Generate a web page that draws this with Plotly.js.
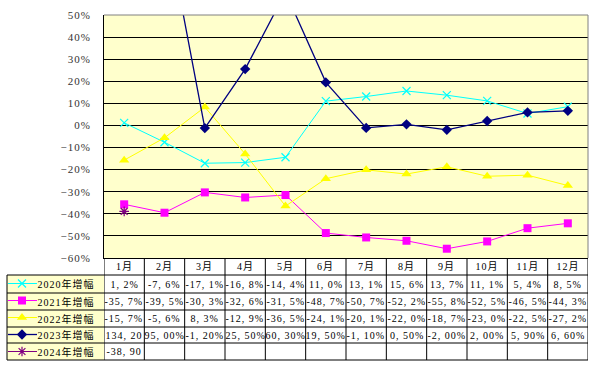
<!DOCTYPE html>
<html><head><meta charset="utf-8">
<script src="https://cdn.plot.ly/plotly-3.0.1.min.js"></script>
<style>
body{margin:0;padding:0;background:#fff;}
#chart text{letter-spacing:1px;}
</style>
</head><body>
<div id="chart" style="width:592px;height:366px;"></div>
<script>
// ---- data ----
const months = ["1月","2月","3月","4月","5月","6月","7月","8月","9月","10月","11月","12月"];
const seriesNames = ["2020年增幅","2021年增幅","2022年增幅","2023年增幅","2024年增幅"];
const v2020 = [1.2,-7.6,-17.1,-16.8,-14.4,11.0,13.1,15.6,13.7,11.1,5.4,8.5];
const v2021 = [-35.7,-39.5,-30.3,-32.6,-31.5,-48.7,-50.7,-52.2,-55.8,-52.5,-46.5,-44.3];
const v2022 = [-15.7,-5.6,8.3,-12.9,-36.5,-24.1,-20.1,-22.0,-18.7,-23.0,-22.5,-27.2];
const v2023 = [134.20,95.00,-1.20,25.50,60.30,19.50,-1.10,0.50,-2.00,2.00,5.90,6.60];
const v2024 = [-38.90];
const t2020 = ["1, 2%","-7, 6%","-17, 1%","-16, 8%","-14, 4%","11, 0%","13, 1%","15, 6%","13, 7%","11, 1%","5, 4%","8, 5%"];
const t2021 = ["-35, 7%","-39, 5%","-30, 3%","-32, 6%","-31, 5%","-48, 7%","-50, 7%","-52, 2%","-55, 8%","-52, 5%","-46, 5%","-44, 3%"];
const t2022 = ["-15, 7%","-5, 6%","8, 3%","-12, 9%","-36, 5%","-24, 1%","-20, 1%","-22, 0%","-18, 7%","-23, 0%","-22, 5%","-27, 2%"];
const t2023 = ["134, 20","95, 00%","-1, 20%","25, 50%","60, 30%","19, 50%","-1, 10%","0, 50%","-2, 00%","2, 00%","5, 90%","6, 60%"];
const t2024 = ["-38, 90"];

// ---- layout helpers ----
const W = 592, H = 366;
const px = x => x / W;
const py = y => 1 - y / H;
const FONT = "'Liberation Serif', 'Noto Sans CJK SC', serif";

const allVals = [v2020, v2021, v2022, v2023, v2024];
const allText = [t2020, t2021, t2022, t2023, t2024];
const styles = [
  {color:"#00FFFF", symbol:"x-thin", size:8, lw:1},
  {color:"#FF00FF", symbol:"square", size:8, lw:1},
  {color:"#FFFF00", symbol:"triangle-up", size:9, lw:1},
  {color:"#000080", symbol:"diamond", size:8, lw:1.3},
  {color:"#800080", symbol:"asterisk", size:8, lw:1}
];

const traces = [];
allVals.forEach((vals, i) => {
  const s = styles[i];
  const thin = s.symbol === "x-thin" || s.symbol === "asterisk";
  traces.push({
    type: "scatter", mode: vals.length > 1 ? "lines+markers" : "markers",
    x: vals.map((_, k) => k), y: vals.map(v => v / 100),
    line: {color: s.color, width: s.lw},
    marker: {symbol: s.symbol, size: s.size, color: s.color,
             line: {color: s.color, width: thin ? 1.2 : 0}},
    cliponaxis: true, showlegend: false, hoverinfo: "skip"
  });
  // legend sample in table (overlay axes)
  traces.push({
    type: "scatter", mode: "lines", xaxis: "x2", yaxis: "y2",
    x: [1, 30], y: [i + 0.5, i + 0.5],
    line: {color: s.color, width: s.lw}, showlegend: false, hoverinfo: "skip"
  });
  traces.push({
    type: "scatter", mode: "markers", xaxis: "x2", yaxis: "y2",
    x: [15], y: [i + 0.5],
    marker: {symbol: s.symbol, size: s.size, color: s.color,
             line: {color: s.color, width: thin ? 1.2 : 0}},
    showlegend: false, hoverinfo: "skip"
  });
});

const rowTop = [275, 293, 310, 327, 343];
const rowBot = [293, 310, 327, 343, 360];
const shapes = [];
const annotations = [];

// horizontal table lines
[275, 293, 310, 327, 343, 360].forEach(y => {
  shapes.push({type:"line", xref:"paper", yref:"paper", x0:px(7), x1:px(588), y0:py(y), y1:py(y),
               line:{color:"#000", width:1}});
});
// left border of table
shapes.push({type:"line", xref:"paper", yref:"paper", x0:px(7), x1:px(7), y0:py(275), y1:py(360),
             line:{color:"#000", width:1}});
// vertical lines at category boundaries
for (let k = 0; k <= months.length; k++) {
  shapes.push({type:"line", xref:"x", yref:"paper", x0:k - 0.5, x1:k - 0.5, y0:py(360), y1:py(258),
               line:{color:"#000", width:1}});
}
// top and right gray frame
shapes.push({type:"line", xref:"paper", yref:"paper", x0:px(104), x1:px(588), y0:py(15), y1:py(15),
             line:{color:"#808080", width:1}});
shapes.push({type:"line", xref:"paper", yref:"paper", x0:px(588), x1:px(588), y0:py(15), y1:py(258),
             line:{color:"#808080", width:1}});

// month header
months.forEach((m, k) => {
  annotations.push({xref:"x", yref:"paper", x:k, y:py(266.5), text:m, showarrow:false,
                    xanchor:"center", yanchor:"middle", font:{family:FONT, size:10, color:"#000"}});
});
// cell values
allText.forEach((row, i) => {
  const yc = (rowTop[i] + rowBot[i]) / 2;
  row.forEach((t, k) => {
    annotations.push({xref:"x", yref:"paper", x:k, y:py(yc), text:t, showarrow:false,
                      xanchor:"center", yanchor:"middle", font:{family:FONT, size:10, color:"#000"}});
  });
  annotations.push({xref:"paper", yref:"paper", x:px(39), y:py(yc), text:seriesNames[i], showarrow:false,
                    xanchor:"left", yanchor:"middle", font:{family:FONT, size:10, color:"#000"}});
});

const layout = {
  width: W, height: H,
  margin: {l:0, r:0, t:0, b:0},
  paper_bgcolor: "#FFFFFF",
  plot_bgcolor: "#FFFFCC",
  showlegend: false,
  xaxis: {
    domain: [px(104), px(588)], range: [-0.5, 11.5], showticklabels: false,
    showgrid: false, zeroline: false, showline: true, linecolor: "#000", linewidth: 1,
    ticks: "", fixedrange: true
  },
  yaxis: {
    domain: [py(258), py(15)], range: [-0.6, 0.5], dtick: 0.1, tick0: 0, tickformat: ".0%",
    showgrid: true, gridcolor: "#000", gridwidth: 1, zeroline: false,
    showline: true, linecolor: "#000", linewidth: 1, ticks: "", ticklabelstandoff: 10,
    tickfont: {family: FONT, size: 11, color: "#333"}, fixedrange: true
  },
  xaxis2: {domain: [px(7), px(104)], range: [0, 97], visible: false, anchor: "y2", fixedrange: true},
  yaxis2: {domain: [py(360), py(275)], range: [5, 0], visible: false, anchor: "x2", fixedrange: true},
  shapes: shapes,
  annotations: annotations
};

Plotly.newPlot("chart", traces, layout, {displayModeBar: false, staticPlot: true});
</script>
</body></html>
